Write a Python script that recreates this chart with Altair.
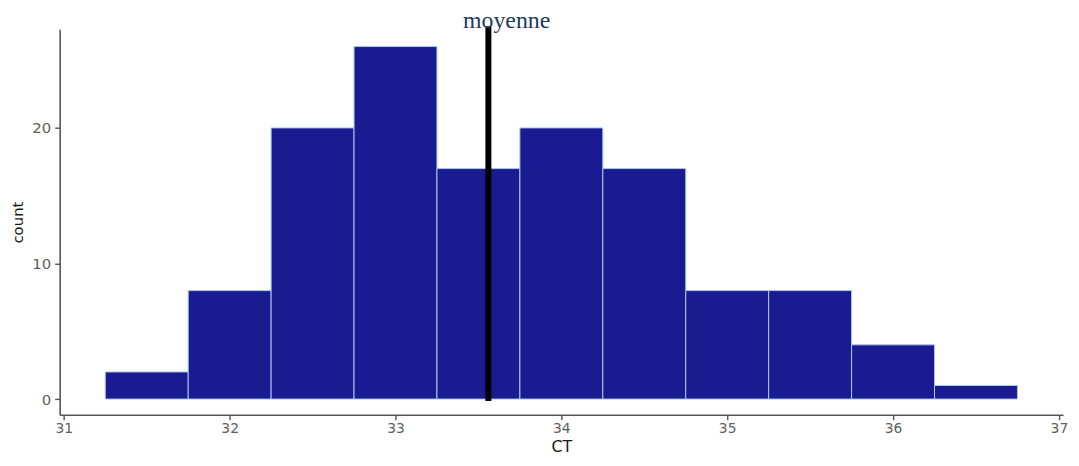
import altair as alt
import pandas as pd

bin_lower = [31.25, 31.75, 32.25, 32.75, 33.25, 33.75, 34.25, 34.75, 35.25, 35.75, 36.25]
bin_upper = [31.75, 32.25, 32.75, 33.25, 33.75, 34.25, 34.75, 35.25, 35.75, 36.25, 36.75]
counts = [2, 8, 20, 26, 17, 20, 17, 8, 8, 4, 1]
mean_ct = 33.56
mean_label = "moyenne"
x_ticks = [31, 32, 33, 34, 35, 36, 37]
y_ticks = [0, 10, 20]

bars_df = pd.DataFrame({"lo": bin_lower, "hi": bin_upper, "count": counts, "zero": [0] * len(counts)})
mean_df = pd.DataFrame({"x": [mean_ct], "y0": [-0.15], "y1": [27.5]})
label_df = pd.DataFrame({"x": [mean_ct + 0.11], "y": [27.4], "t": [mean_label]})

xscale = alt.Scale(domain=[30.975, 37.025], nice=False, zero=False)
yscale = alt.Scale(domain=[-1.16, 27.27], nice=False, zero=False)

xaxis = alt.Axis(values=x_ticks, title="CT", grid=False, labelFont="DejaVu Sans",
                 labelFontSize=14, labelColor="#606060", titleFont="DejaVu Sans",
                 titleFontSize=16, titleFontWeight="normal", titleColor="#1a1a1a",
                 titleBaseline="alphabetic", titleY=37,
                 domainColor="#555555", domainWidth=1.6, tickColor="#555555", tickSize=5,
                 tickWidth=1.4, labelPadding=2, format="d")
yaxis = alt.Axis(values=y_ticks, title="count", grid=False, labelFont="DejaVu Sans",
                 labelFontSize=15, labelColor="#606060", titleFont="DejaVu Sans",
                 titleFontSize=15, titleFontWeight="normal", titleColor="#1a1a1a",
                 domainColor="#555555", domainWidth=1.6, tickColor="#555555", tickSize=5,
                 tickWidth=1.4, labelPadding=4, titlePadding=6, format="d")

bars = alt.Chart(bars_df).mark_rect(fill="#1a1a91", stroke="#a9c9ea", strokeWidth=1).encode(
    x=alt.X("lo:Q", scale=xscale, axis=xaxis),
    x2="hi:Q",
    y=alt.Y("zero:Q", scale=yscale, axis=yaxis),
    y2="count:Q",
)

rule = alt.Chart(mean_df).mark_rule(color="black", strokeWidth=6, clip=False).encode(
    x=alt.X("x:Q", scale=xscale),
    y=alt.Y("y0:Q", scale=yscale),
    y2="y1:Q",
)

label = alt.Chart(label_df).mark_text(font="Liberation Serif", fontSize=24, color="#1f3864",
                                      align="center", baseline="alphabetic", clip=False).encode(
    x=alt.X("x:Q", scale=xscale),
    y=alt.Y("y:Q", scale=yscale),
    text="t:N",
)

chart = alt.layer(bars, rule, label).properties(
    width=1010, height=388,
    padding={"left": 52, "top": 20, "right": 8, "bottom": 42},
    autosize=alt.AutoSizeParams(type="none"),
    background="white",
).configure_view(strokeWidth=0, stroke="transparent")

chart.save("out.html", embed_options={"renderer": "svg", "actions": False})
